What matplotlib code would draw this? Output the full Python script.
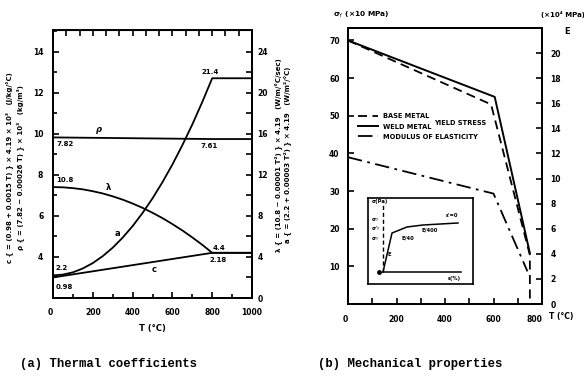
import matplotlib
matplotlib.use('Agg')
import matplotlib.pyplot as plt
import numpy as np

# ---------------- data: (a) thermal coefficients ----------------
T_a = [0, 50, 100, 150, 200, 250, 300, 350, 400, 450, 500, 550, 600, 650, 700, 750, 800, 1000]
lam_vals = [10.8, 10.78, 10.7, 10.58, 10.4, 10.18, 9.9, 9.58, 9.2, 8.78, 8.3, 7.78, 7.2, 6.58, 5.9, 5.18, 4.4, 4.4]
a_vals = [2.2, 2.28, 2.5, 2.88, 3.4, 4.08, 4.9, 5.88, 7.0, 8.28, 9.7, 11.28, 13.0, 14.88, 16.9, 19.08, 21.4, 21.4]
T_rho = [0, 800, 1000]
rho_vals = [9.82, 9.74, 9.74]
T_c = [0, 800, 1000]
c_vals = [3.0, 4.2, 4.2]

# ---------------- data: (b) mechanical properties ----------------
T_base = [0, 590, 750, 750]
base_vals = [70, 53, 13, 0]
T_weld = [0, 605, 750]
weld_vals = [70, 55, 13.5]
T_E = [0, 600, 740]
E_vals = [11.7, 8.8, 2.6]

# inset schematic stress-strain curve (box units)
inset_eps = [15, 24, 39, 55, 90]
inset_sig = [12, 51, 57, 59, 61]

fig = plt.figure(figsize=(5.84, 3.80), dpi=100)
W, H = 584.0, 380.0


def box(l, t, r, b):
    return [l / W, 1 - b / H, (r - l) / W, (b - t) / H]


lw_sp = 1.4
# ================= (a) =================
ax = fig.add_axes(box(53, 30, 252, 298))
axr = ax.twinx()
ax.set_xlim(0, 1000)
ax.set_ylim(2, 15.05)
axr.set_ylim(0, 26.1)

ax.plot(T_rho, rho_vals, color='black', lw=1.3)
ax.plot(T_c, c_vals, color='black', lw=1.3)
axr.plot(T_a, lam_vals, color='black', lw=1.3)
axr.plot(T_a, a_vals, color='black', lw=1.3)

ax.set_xticks([0, 200, 400, 600, 800, 1000])
ax.set_xticks(np.arange(0, 1001, 100), minor=True)
ax.set_yticks([4, 6, 8, 10, 12, 14])
ax.set_yticks(np.arange(3, 15.1, 1), minor=True)
axr.set_yticks([0, 4, 8, 12, 16, 20, 24])
axr.set_yticks(np.arange(0, 26, 2), minor=True)
for a_ in (ax, axr):
    for s in a_.spines.values():
        s.set_linewidth(lw_sp)
ax.tick_params(axis='both', which='both', direction='in', length=4, width=1.2,
               labelsize=5.5, pad=7)
ax.tick_params(axis='x', which='minor', length=3)
ax.tick_params(axis='y', which='minor', length=3)
axr.tick_params(axis='y', which='both', direction='in', length=4, width=1.2,
                labelsize=5.5, pad=4)
ax.set_xticklabels(['0', '200', '400', '600', '800', '1000'], fontweight='bold')
ax.get_xticklabels()[0].set_ha('right')
for lab in ax.get_yticklabels() + axr.get_yticklabels():
    lab.set_fontweight('bold')
sec = ax.secondary_xaxis('top')
sec.set_xticks(np.linspace(0, 1000, 16))
sec.tick_params(direction='in', length=4, width=1.2, labeltop=False)
ax.set_xlabel('T (°C)', fontsize=6, fontweight='bold', labelpad=5)


def t(x, y, s, size=5, **kw):
    fig.text(x / W, 1 - y / H, s, fontsize=size, fontweight='bold', **kw)


t(56, 144, '7.82', va='center')
t(200, 146, '7.61', va='center')
t(96, 129, 'ρ', size=6, va='center', style='italic')
t(56, 180, '10.8', va='center')
t(106, 187, 'λ', size=6, va='center')
t(115, 234, 'a', size=6, va='center')
t(152, 270, 'c', size=6, va='center')
t(55, 268, '2.2', va='center')
t(56, 287, '0.98', va='center')
t(202, 72, '21.4', va='center')
t(213, 248, '4.4', va='center')
t(210, 260, '2.18', va='center')

t(9, 168, 'c { = (0.98 + 0.0015 T) } × 4.19 × 10³   (J/kg/°C)', size=5,
  rotation=90, ha='center', va='center')
t(20, 168, 'ρ { = (7.82 − 0.00026 T) } × 10³   (kg/m³)', size=5,
  rotation=90, ha='center', va='center')
t(278, 155, 'λ { = (10.8 − 0.00001 T²) } × 4.19   (W/m/°C/sec)', size=5,
  rotation=90, ha='center', va='center')
t(287, 155, 'a { = (2.2 + 0.00003 T²) } × 4.19   (W/m²/°C)', size=5,
  rotation=90, ha='center', va='center')

# ================= (b) =================
bx = fig.add_axes(box(348, 28, 542, 304))
bxr = bx.twinx()
bx.set_xlim(0, 800)
bx.set_ylim(0, 73.3)
bxr.set_ylim(0, 22)
l_base, = bx.plot(T_base, base_vals, color='black', lw=1.3, ls=(0, (5, 3)))
l_weld, = bx.plot(T_weld, weld_vals, color='black', lw=1.4, ls='-')
l_E, = bxr.plot(T_E, E_vals, color='black', lw=1.3, ls=(0, (8, 3, 1.5, 3)))

bx.set_xticks([0, 200, 400, 600, 800])
bx.set_xticks(np.arange(0, 801, 100), minor=True)
bx.set_yticks([0, 10, 20, 30, 40, 50, 60, 70])
bxr.set_yticks(np.arange(0, 21, 2))
for a_ in (bx, bxr):
    for s in a_.spines.values():
        s.set_linewidth(lw_sp)
bx.tick_params(axis='both', which='both', direction='in', length=4, width=1.2,
               labelsize=5.5, pad=8)
bx.tick_params(axis='y', pad=6)
bxr.tick_params(axis='y', direction='in', length=4, width=1.2, labelsize=5.5, pad=6)
bx.set_xticklabels(['0', '200', '400', '600', '800'], fontweight='bold')
bx.get_xticklabels()[0].set_ha('right')
bx.get_xticklabels()[-1].set_ha('right')
bx.set_yticklabels(['', '10', '20', '30', '40', '50', '60', '70'], fontweight='bold')
for lab in bxr.get_yticklabels():
    lab.set_fontweight('bold')

t(333, 15, 'σ$_Y$ (×10 MPa)', size=5.3, va='center')
t(541, 15, '(×10⁴ MPa)', size=5.0, va='center')
t(564, 32, 'E', size=6, va='center')
t(549, 316, 'T (°C)', size=5.5, va='center')

leg = bx.legend([l_base, l_weld, l_E], ['BASE METAL', 'WELD METAL', 'MODULUS OF ELASTICITY'],
                loc='upper left', bbox_to_anchor=(0.04, 0.70), frameon=False,
                prop=dict(size=4.8, weight='bold'), handlelength=3.0,
                labelspacing=0.62, handletextpad=0.7, borderaxespad=0)
t(434, 123, 'YIELD STRESS', size=4.8, va='center')

# inset
ins = fig.add_axes(box(368, 198, 473, 284))
ins.set_xlim(0, 105)
ins.set_ylim(0, 86)
ins.set_xticks([])
ins.set_yticks([])
for s in ins.spines.values():
    s.set_linewidth(1.2)
ins.plot(inset_eps, inset_sig, color='black', lw=1.1)
ins.plot([15, 93], [12, 12], color='black', lw=1.1)
ins.plot([15, 15], [12, 82], color='black', lw=1.0, ls=(0, (3, 2)))
ins.plot([11], [12], 'o', color='black', ms=2.5)
for (x, y, s) in [(4, 81, 'σ(Pa)'), (3, 63, 'σ$_Y$'), (3, 54, "σ'$_Y$"), (3, 44, 'σ$_Y$'),
                  (20, 28, 'E'), (34, 44, 'E/40'), (53, 52, 'E/400'), (78, 67, "ε'=0"),
                  (80, 4, 'ε(%)')]:
    ins.text(x, y, s, fontsize=3.8, fontweight='bold')

# captions
fig.text(20 / W, 1 - 364 / H, '(a) Thermal coefficients', family='Liberation Mono',
         fontsize=8.8, fontweight='bold', va='center')
fig.text(318 / W, 1 - 364 / H, '(b) Mechanical properties', family='Liberation Mono',
         fontsize=8.8, fontweight='bold', va='center')

fig.savefig('out.png', dpi=100)
